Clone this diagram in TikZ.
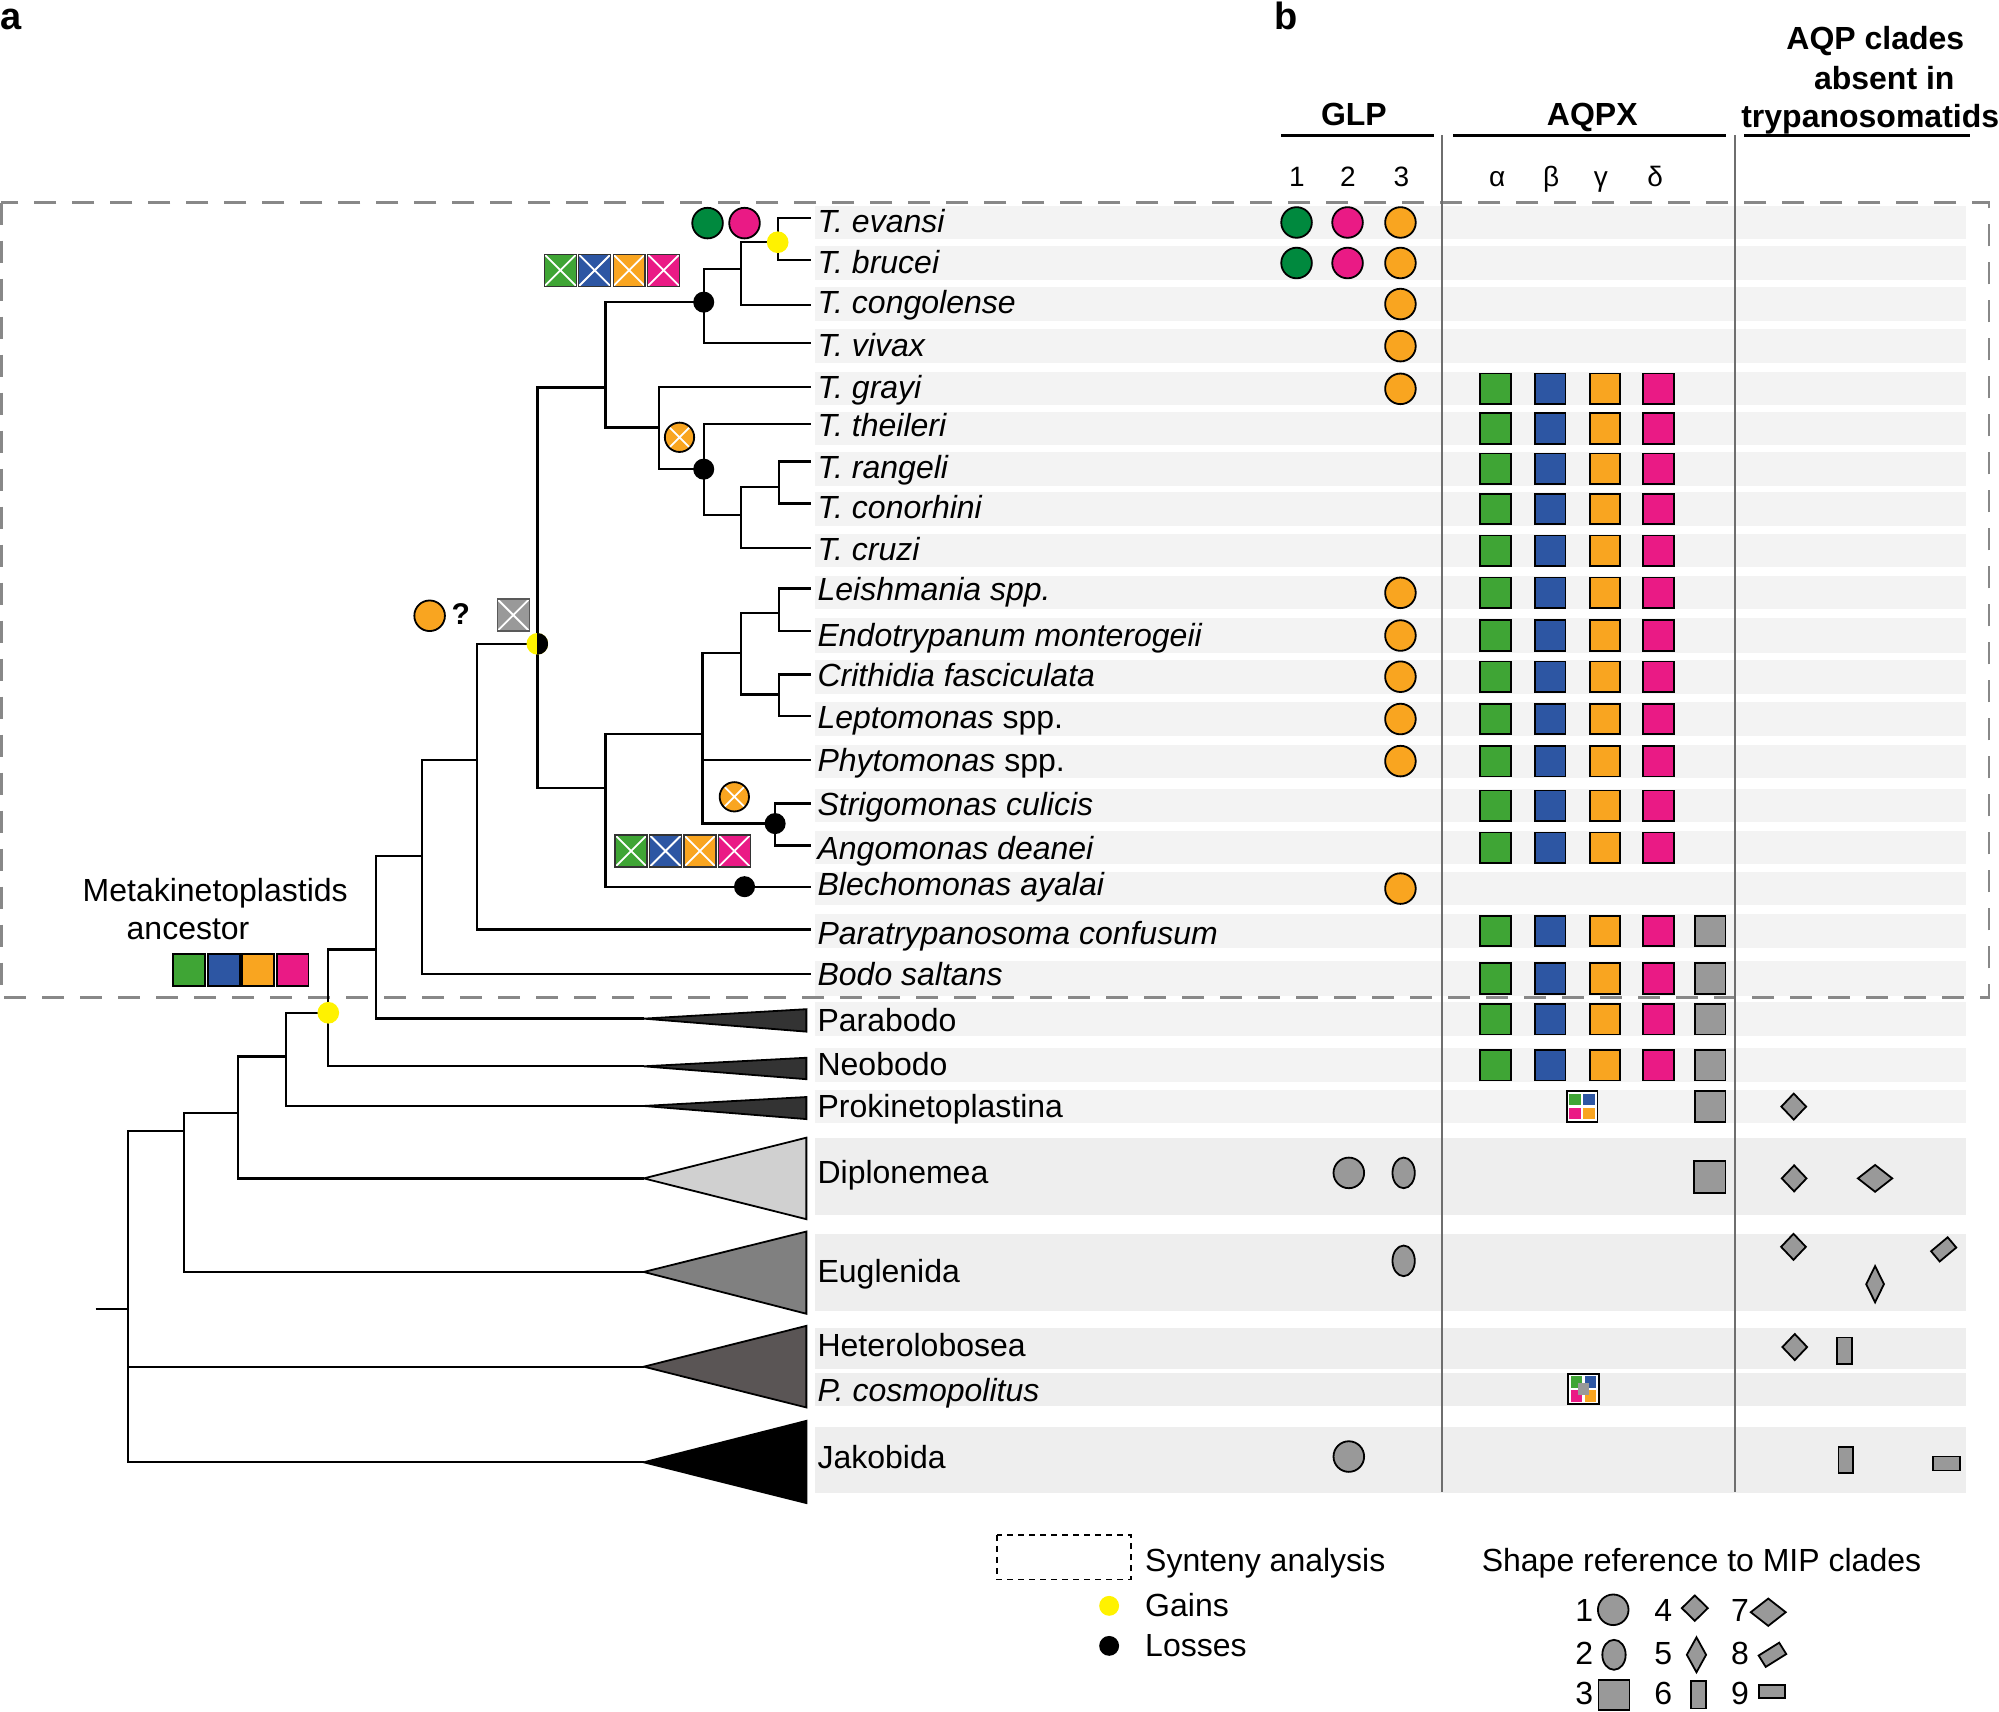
\documentclass[tikz,border=0pt]{standalone}
\usepackage{fontspec}
\setmainfont{Liberation Sans}
\usetikzlibrary{shapes.geometric}
\newdimen\uu
\uu=0.63744pt
\definecolor{cgreen}{RGB}{63,165,53}
\definecolor{cblue}{RGB}{45,86,163}
\definecolor{corange}{RGB}{249,165,32}
\definecolor{cpink}{RGB}{234,26,133}
\definecolor{cdkgreen}{RGB}{0,137,62}
\definecolor{cgray}{RGB}{153,153,153}
\definecolor{cyell}{RGB}{255,242,0}
\definecolor{bandA}{RGB}{243,243,243}
\definecolor{bandB}{RGB}{238,238,238}
\definecolor{tdark}{RGB}{51,51,51}
\definecolor{tlight}{RGB}{208,208,208}
\definecolor{tmid}{RGB}{128,128,128}
\definecolor{thet}{RGB}{90,85,85}
\definecolor{sepgray}{RGB}{110,110,110}
\definecolor{dashgray}{RGB}{136,136,136}
\tikzset{
 trl/.style={line width=1.15pt, black},
 sp/.style={anchor=base west, inner sep=0, font=\fontsize{16}{19}\selectfont\itshape},
 cl/.style={anchor=base west, inner sep=0, font=\fontsize{16}{19}\selectfont},
 hd/.style={anchor=base, inner sep=0, font=\fontsize{16}{19}\selectfont\bfseries},
 colnum/.style={anchor=base, inner sep=0, font=\fontsize{14}{17}\selectfont},
 glpc/.style={circle, draw=black, line width=0.9pt, minimum size=24\uu, inner sep=0},
 aq/.style={rectangle, draw=black, line width=0.9pt, minimum size=24\uu, inner sep=0},
 xcross/.style={path picture={\draw[white, line width=0.9pt] (path picture bounding box.south west) -- (path picture bounding box.north east) (path picture bounding box.north west) -- (path picture bounding box.south east);}},
 xbox/.style={rectangle, draw=black!80, line width=0.7pt, minimum size=25\uu, inner sep=0, xcross},
 xcirc/.style={circle, draw=black, line width=0.9pt, fill=corange, minimum size=23\uu, inner sep=0, xcross},
 dotk/.style={circle, fill=black, minimum size=16.5\uu, inner sep=0},
 doty/.style={circle, fill=cyell, minimum size=17\uu, inner sep=0},
 halfdot/.style={circle, fill=cyell, minimum size=17\uu, inner sep=0, path picture={\fill[black] (path picture bounding box.north) rectangle (path picture bounding box.south east);}},
 mip/.style={draw=black, line width=0.9pt, fill=cgray, inner sep=0},
 mipd/.style={mip, diamond},
 mipr/.style={mip, rectangle},
 mipe/.style={mip, ellipse},
 quads/.code={},
 mosaic/.style={rectangle, draw=black, line width=0.9pt, fill=white, minimum size=24\uu, inner sep=0, path picture={
   \fill[cgreen] ([xshift=1.3pt,yshift=-1.3pt]path picture bounding box.north west) rectangle ([xshift=-0.6pt,yshift=0.6pt]path picture bounding box.center);
   \fill[cblue] ([xshift=-1.3pt,yshift=-1.3pt]path picture bounding box.north east) rectangle ([xshift=0.6pt,yshift=0.6pt]path picture bounding box.center);
   \fill[cpink] ([xshift=1.3pt,yshift=1.3pt]path picture bounding box.south west) rectangle ([xshift=-0.6pt,yshift=-0.6pt]path picture bounding box.center);
   \fill[corange] ([xshift=-1.3pt,yshift=1.3pt]path picture bounding box.south east) rectangle ([xshift=0.6pt,yshift=-0.6pt]path picture bounding box.center);}},
 mosaicg/.style={rectangle, draw=black, line width=0.9pt, fill=white, minimum size=24\uu, inner sep=0, path picture={
   \fill[cgreen] ([xshift=1.3pt,yshift=-1.3pt]path picture bounding box.north west) rectangle ([xshift=-0.6pt,yshift=0.6pt]path picture bounding box.center);
   \fill[cblue] ([xshift=-1.3pt,yshift=-1.3pt]path picture bounding box.north east) rectangle ([xshift=0.6pt,yshift=0.6pt]path picture bounding box.center);
   \fill[cpink] ([xshift=1.3pt,yshift=1.3pt]path picture bounding box.south west) rectangle ([xshift=-0.6pt,yshift=-0.6pt]path picture bounding box.center);
   \fill[corange] ([xshift=-1.3pt,yshift=1.3pt]path picture bounding box.south east) rectangle ([xshift=0.6pt,yshift=-0.6pt]path picture bounding box.center);
   \fill[cgray] ([xshift=-2.6pt,yshift=-3.2pt]path picture bounding box.center) rectangle ([xshift=2.6pt,yshift=3.2pt]path picture bounding box.center);}},
 tri/.style={draw=black, line width=0.9pt, line join=miter}
}
\begin{document}
\begin{tikzpicture}[x=0.63744pt, y=-0.63744pt]
\useasboundingbox (0,0) rectangle (1568,1342.7);

% ---------- row bands ----------
\foreach \t/\b in {161.6/187.5, 193/219.6, 225/252, 258/285, 292/318, 323/349, 354.5/381, 386/412.6, 419/445, 452/478, 485/512, 517.6/544, 551/577, 584/610, 619/645, 652/678, 684/710, 717/743.5, 754/781, 786/813, 822/849, 855/881}
  \fill[bandA] (639,\t) rectangle (1542,\b);
\foreach \t/\b in {893/953, 968/1028, 1042/1074, 1077/1103, 1119/1171}
  \fill[bandB] (639,\t) rectangle (1542,\b);

% ---------- synteny box ----------
\draw[dashgray, line width=1.3pt, dash pattern=on 11pt off 8pt] (1,159) rectangle (1560,782.6);

% ---------- headers ----------
\node[anchor=base west, inner sep=0, font=\fontsize{19}{22}\selectfont\bfseries] (la) at (0,23.5) {a};
\node[anchor=base west, inner sep=0, font=\fontsize{19}{22}\selectfont\bfseries] (lb) at (999,23.5) {b};
\node[hd] (hglp) at (1062,98.8) {GLP};
\node[hd] (haqpx) at (1249,98.8) {AQPX};
\node[hd] (hc1) at (1471,38.7) {AQP clades};
\node[hd] (hc2) at (1478,70) {absent in};
\node[hd] (hc3) at (1467,100) {trypanosomatids};
\draw[line width=1.4pt] (1005,106) -- (1125,106);
\draw[line width=1.4pt] (1140,106) -- (1354,106);
\draw[line width=1.4pt] (1368,106) -- (1545,106);
\node[colnum] (n1) at (1017.3,146) {1};
\node[colnum] (n2) at (1057.3,146) {2};
\node[colnum] (n3) at (1099.3,146) {3};
\node[colnum] (na) at (1174.3,146) {α};
\node[colnum] (nb) at (1216.8,146) {β};
\node[colnum] (ng) at (1255.8,146) {γ};
\node[colnum] (nd) at (1298.3,146) {δ};
\draw[sepgray, line width=0.8pt] (1131,106) -- (1131,1170);
\draw[sepgray, line width=0.8pt] (1361,106) -- (1361,1170);

% ---------- taxon labels ----------
\node[sp] (s1) at (641,182) {T. evansi};
\node[sp] (s2) at (641,214.4) {T. brucei};
\node[sp] (s3) at (641,245.8) {T. congolense};
\node[sp] (s4) at (641,279.7) {T. vivax};
\node[sp] (s5) at (641,312.4) {T. grayi};
\node[sp] (s6) at (641,342.2) {T. theileri};
\node[sp] (s7) at (641,375.2) {T. rangeli};
\node[sp] (s8) at (641,406.7) {T. conorhini};
\node[sp] (s9) at (641,439.8) {T. cruzi};
\node[sp] (s10) at (641,471.3) {Leishmania spp.};
\node[sp] (s11) at (641,507.3) {Endotrypanum monterogeii};
\node[sp] (s12) at (641,538.8) {Crithidia fasciculata};
\node[sp] (s13) at (641,571.8) {Leptomonas \upshape spp.};
\node[sp] (s14) at (641,604.8) {Phytomonas \upshape spp.};
\node[sp] (s15) at (641,639.3) {Strigomonas culicis};
\node[sp] (s16) at (641,673.8) {Angomonas deanei};
\node[sp] (s17) at (641,702.4) {Blechomonas ayalai};
\node[sp] (s18) at (641,740.5) {Paratrypanosoma confusum};
\node[sp] (s19) at (641,772.9) {Bodo saltans};
\node[cl] (s20) at (641,809) {Parabodo};
\node[cl] (s21) at (641,843.7) {Neobodo};
\node[cl] (s22) at (641,876.4) {Prokinetoplastina};
\node[cl] (s23) at (641,928.3) {Diplonemea};
\node[cl] (s24) at (641,1006.1) {Euglenida};
\node[cl] (s25) at (641,1064) {Heterolobosea};
\node[sp] (s26) at (641,1099) {P. cosmopolitus};
\node[cl] (s27) at (641,1151.8) {Jakobida};

% ---------- tree coordinates ----------
\foreach \i/\y in {1/171, 2/204, 3/239, 4/269, 5/303.5, 6/332.5, 7/362, 8/395, 9/430, 10/461.5, 11/494.7, 12/529, 13/561.6, 14/596.4, 15/630.3, 16/663.3, 17/695.5, 18/729, 19/764}
  \coordinate (L\i) at (636,\y);
\coordinate (T20) at (505,799);
\coordinate (T21) at (505,836.4);
\coordinate (T22) at (505,867.5);
\coordinate (T23) at (505,924.3);
\coordinate (T24) at (505,997.7);
\coordinate (T25) at (505,1072);
\coordinate (T27) at (505,1147);
\coordinate (Neb) at (610,190);
\coordinate (Nebc) at (581,211);
\coordinate (Nebcv) at (552,237);
\coordinate (Nrc) at (611,382);
\coordinate (Nrcc) at (581.5,403.7);
\coordinate (Ntrc) at (552,368);
\coordinate (Ngr) at (517,335.3);
\coordinate (NT) at (475,304);
\coordinate (NLE) at (611,481);
\coordinate (NCL) at (611,544.8);
\coordinate (NLECL) at (581.5,512.4);
\coordinate (NSA) at (608,646);
\coordinate (Nleish) at (551,575.7);
\coordinate (Nlow) at (475,618.3);
\coordinate (Ntryp) at (421.5,505);
\coordinate (Npara) at (374,596.4);
\coordinate (Nbodo) at (331,671.4);
\coordinate (Nparab) at (295,744.7);
\coordinate (Nneo) at (257.5,794.4);
\coordinate (Nprok) at (224.5,828.8);
\coordinate (Ndip) at (186.5,873);
\coordinate (Neug) at (144.5,887.4);
\coordinate (Nroot) at (100.5,1027);
\coordinate (Rstub) at (75,1027);

% ---------- tree ----------
\draw[trl] (Neb) |- (L1) (Neb) |- (L2)
  (Nebc) |- (Neb) (Nebc) |- (L3)
  (Nebcv) |- (Nebc) (Nebcv) |- (L4)
  (Nrc) |- (L7) (Nrc) |- (L8)
  (Nrcc) |- (Nrc) (Nrcc) |- (L9)
  (Ntrc) |- (L6) (Ntrc) |- (Nrcc)
  (Ngr) |- (L5) (Ngr) |- (Ntrc)
  (NT) |- (Nebcv) (NT) |- (Ngr)
  (NLE) |- (L10) (NLE) |- (L11)
  (NCL) |- (L12) (NCL) |- (L13)
  (NLECL) |- (NLE) (NLECL) |- (NCL)
  (NSA) |- (L15) (NSA) |- (L16)
  (Nleish) |- (NLECL) (Nleish) |- (L14) (Nleish) |- (NSA)
  (Nlow) |- (Nleish) (Nlow) |- (L17)
  (Ntryp) |- (NT) (Ntryp) |- (Nlow)
  (Npara) |- (Ntryp) (Npara) |- (L18)
  (Nbodo) |- (Npara) (Nbodo) |- (L19)
  (Nparab) |- (Nbodo) (Nparab) |- (T20)
  (Nneo) |- (Nparab) (Nneo) |- (T21)
  (Nprok) |- (Nneo) (Nprok) |- (T22)
  (Ndip) |- (Nprok) (Ndip) |- (T23)
  (Neug) |- (Ndip) (Neug) |- (T24)
  (Nroot) |- (Neug) (Nroot) |- (T25) (Nroot) |- (T27)
  (Rstub) -- (Nroot);

% ---------- collapsed clades ----------
\filldraw[tri, fill=tdark] (T20) -- (632.5,791.6) -- (632.5,809.2) -- cycle;
\filldraw[tri, fill=tdark] (T21) -- (632.5,829.7) -- (632.5,846.5) -- cycle;
\filldraw[tri, fill=tdark] (T22) -- (632.5,860.5) -- (632.5,877.8) -- cycle;
\filldraw[tri, fill=tlight] (T23) -- (632.5,892.4) -- (632.5,956.3) -- cycle;
\filldraw[tri, fill=tmid] (T24) -- (632.5,966) -- (632.5,1030.5) -- cycle;
\filldraw[tri, fill=thet] (T25) -- (632.5,1040) -- (632.5,1104) -- cycle;
\filldraw[tri, fill=black] (T27) -- (632.5,1114.5) -- (632.5,1179) -- cycle;

% ---------- events on the tree ----------
\node[doty] (e1) at (Neb) {};
\node[dotk] (e2) at (Nebcv) {};
\node[dotk] (e3) at (Ntrc) {};
\node[dotk] (e4) at (NSA) {};
\node[dotk] (e5) at (584,695.5) {};
\node[halfdot] (e6) at (Ntryp) {};
\node[doty] (e7) at (Nneo) {};
\node[xcirc] (e8) at (533,343) {};
\node[xcirc] (e9) at (576,625) {};
\node[glpc, fill=cdkgreen] (e10) at (555,175) {};
\node[glpc, fill=cpink] (e11) at (584,175) {};
\node[xbox, fill=cgreen] (xa1) at (439.5,212) {};
\node[xbox, fill=cblue] (xa2) at (466.5,212) {};
\node[xbox, fill=corange] (xa3) at (493.5,212) {};
\node[xbox, fill=cpink] (xa4) at (520.5,212) {};
\node[xbox, fill=cgreen] (xb1) at (495,667.5) {};
\node[xbox, fill=cblue] (xb2) at (522,667.5) {};
\node[xbox, fill=corange] (xb3) at (549,667.5) {};
\node[xbox, fill=cpink] (xb4) at (576,667.5) {};
\node[xbox, fill=cgray, draw=black!65] (xg) at (402.6,482.4) {};
\node[glpc, fill=corange] (qc) at (337,483) {};
\node[anchor=base, inner sep=0, font=\fontsize{15}{18}\selectfont\bfseries] (qm) at (361.5,490.2) {?};

% ancestor
\node[anchor=base, inner sep=0, font=\fontsize{16}{19}\selectfont] (anc1) at (168.8,707) {Metakinetoplastids};
\node[anchor=base, inner sep=0, font=\fontsize{16}{19}\selectfont] (anc2) at (147.5,737) {ancestor};
\node[aq, fill=cgreen, minimum size=25\uu] (m1) at (148.5,761) {};
\node[aq, fill=cblue, minimum size=25\uu] (m2) at (175.5,761) {};
\node[aq, fill=corange, minimum size=25\uu] (m3) at (202.5,761) {};
\node[aq, fill=cpink, minimum size=25\uu] (m4) at (229.5,761) {};

% ---------- GLP column ----------
\node[glpc, fill=cdkgreen] (g1-1) at (1017,174.5) {};
\node[glpc, fill=cdkgreen] (g1-2) at (1017,206.3) {};
\node[glpc, fill=cpink] (g2-1) at (1057,174.5) {};
\node[glpc, fill=cpink] (g2-2) at (1057,206.3) {};
\foreach \r/\y in {1/174.5, 2/206.3, 3/238.5, 4/271.5, 5/305, 10/465, 11/498.5, 12/530.8, 13/564, 14/597, 17/697}
  \node[glpc, fill=corange] (g3-\r) at (1098.5,\y) {};
\node[mipe, minimum width=24\uu, minimum height=24\uu] (g2-23) at (1058,920) {};
\node[mipe, minimum width=17.5\uu, minimum height=24\uu] (g3-23) at (1101,920) {};
\node[mipe, minimum width=17.5\uu, minimum height=24\uu] (g3-24) at (1101,989) {};
\node[mipe, minimum width=24\uu, minimum height=24\uu] (g2-27) at (1058,1142.5) {};

% ---------- AQPX column ----------
\foreach \r/\y in {5/305, 6/336, 7/367.75, 8/399.3, 9/432, 10/465, 11/498.5, 12/530.8, 13/564, 14/597, 15/632, 16/665, 18/730.25, 19/767.5, 20/799.5, 21/835.5} {
  \node[aq, fill=cgreen] (a\r-1) at (1173,\y) {};
  \node[aq, fill=cblue] (a\r-2) at (1216,\y) {};
  \node[aq, fill=corange] (a\r-3) at (1259,\y) {};
  \node[aq, fill=cpink] (a\r-4) at (1301,\y) {};
}
\foreach \r/\y in {18/730.25, 19/767.5, 20/799.5, 21/835.5}
  \node[aq, fill=cgray] (a\r-5) at (1341.5,\y) {};
\node[mosaic] (mz22) at (1241,868) {};
\node[aq, fill=cgray] (a22-5) at (1341.5,868) {};
\node[aq, fill=cgray, minimum size=25\uu] (a23-5) at (1341,923) {};
\node[mosaicg] (mz26) at (1242,1089.5) {};

% ---------- absent clades column ----------
\node[mipd, minimum width=20\uu, minimum height=21\uu] (c4-22) at (1407,868) {};
\node[mipd, minimum width=20\uu, minimum height=21\uu] (c4-23) at (1407.3,924.3) {};
\node[mipd, minimum width=27.5\uu, minimum height=21.6\uu] (c7-23) at (1470.8,924.3) {};
\node[mipd, minimum width=20\uu, minimum height=21\uu] (c4-24) at (1406.8,978) {};
\node[mipr, minimum width=17\uu, minimum height=10.5\uu, rotate=40] (c8-24) at (1524.6,980) {};
\node[mipd, minimum width=14.5\uu, minimum height=29\uu] (c5-24) at (1470.8,1007.3) {};
\node[mipd, minimum width=20\uu, minimum height=21\uu] (c4-25) at (1407.8,1056.6) {};
\node[mipr, minimum width=11.5\uu, minimum height=20.5\uu] (c6-25) at (1446.8,1059.4) {};
\node[mipr, minimum width=11.5\uu, minimum height=20.5\uu] (c6-27) at (1447.8,1145) {};
\node[mipr, minimum width=21\uu, minimum height=11\uu] (c9-27) at (1526.8,1148) {};

% ---------- legend ----------
\draw[black, line width=0.9pt, dash pattern=on 3pt off 2.5pt] (782,1204) rectangle (887,1239);
\node[cl] (lsyn) at (898,1232.7) {Synteny analysis};
\node[doty, minimum size=15.6\uu] (lyd) at (870,1259.6) {};
\node[cl] (lgain) at (898,1268.2) {Gains};
\node[dotk, minimum size=15.6\uu] (lkd) at (870,1291) {};
\node[cl] (lloss) at (898,1299.5) {Losses};
\node[cl] (lshape) at (1162,1232.7) {Shape reference to MIP clades};
\node[cl] (d1) at (1235.3,1271.9) {1};
\node[cl] (d4) at (1297.3,1271.9) {4};
\node[cl] (d7) at (1357.5,1271.9) {7};
\node[cl] (d2) at (1235.3,1305.4) {2};
\node[cl] (d5) at (1297.3,1305.4) {5};
\node[cl] (d8) at (1357.5,1305.4) {8};
\node[cl] (d3) at (1235.3,1336.7) {3};
\node[cl] (d6) at (1297.3,1336.7) {6};
\node[cl] (d9) at (1357.5,1336.7) {9};
\node[mipe, minimum width=24\uu, minimum height=24\uu] (k1) at (1265.4,1262.7) {};
\node[mipd, minimum width=21\uu, minimum height=20.5\uu] (k4) at (1329.4,1261.4) {};
\node[mipd, minimum width=28\uu, minimum height=22\uu] (k7) at (1387,1264.6) {};
\node[mipe, minimum width=18.3\uu, minimum height=23.5\uu] (k2) at (1266,1298) {};
\node[mipd, minimum width=15.7\uu, minimum height=28\uu] (k5) at (1330.7,1298) {};
\node[mipr, minimum width=19\uu, minimum height=10.5\uu, rotate=32] (k8) at (1390.3,1298) {};
\node[mipr, minimum width=24.3\uu, minimum height=23.5\uu] (k3) at (1266,1329.4) {};
\node[mipr, minimum width=11.2\uu, minimum height=21.4\uu] (k6) at (1332.3,1329.4) {};
\node[mipr, minimum width=20.4\uu, minimum height=9.7\uu] (k9) at (1390,1326.8) {};
\end{tikzpicture}
\end{document}
